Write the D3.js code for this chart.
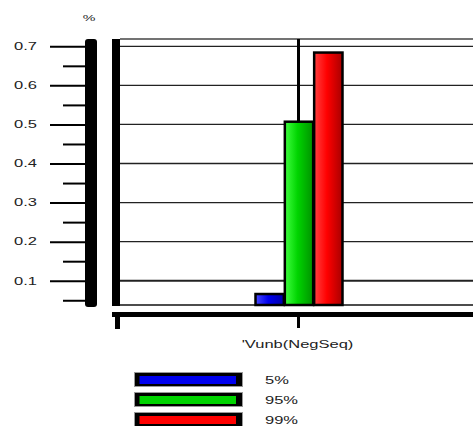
<!DOCTYPE html>
<html>
<head>
<meta charset="utf-8">
<script src="https://cdn.jsdelivr.net/npm/d3@7"></script>
<style>
  html, body { margin: 0; padding: 0; background: #fff; }
  svg { display: block; }
  text { font-family: "Liberation Sans", Arial, sans-serif; fill: #222; }
</style>
</head>
<body>
<script>
// Unbalance (negative sequence) percentiles
const categories = ["'Vunb(NegSeq)"];
const seriesNames = ["5%", "95%", "99%"];
const seriesValues = [[0.066], [0.507], [0.684]];
const majorTicks = [0.1, 0.2, 0.3, 0.4, 0.5, 0.6, 0.7];
const minorTicks = [0.05, 0.15, 0.25, 0.35, 0.45, 0.55, 0.65];
const yUnit = "%";

const W = 473, H = 426;
const plot = { left: 120, right: 477, top: 39, bottom: 305 };
const colors = [
  ["#4a4aff", "#0000ee", "#0000a8"],
  ["#40ff40", "#00d400", "#009200"],
  ["#ff4040", "#ff0000", "#a80000"]
];
const SX = 1.5; // horizontal text stretch

const svg = d3.select("body").append("svg").attr("width", W).attr("height", H);

const defs = svg.append("defs");
colors.forEach((c, i) => {
  const g = defs.append("linearGradient").attr("id", "g" + i)
    .attr("x1", 0).attr("x2", 1).attr("y1", 0).attr("y2", 0);
  g.append("stop").attr("offset", "0%").attr("stop-color", c[0]);
  g.append("stop").attr("offset", "45%").attr("stop-color", c[1]);
  g.append("stop").attr("offset", "100%").attr("stop-color", c[2]);
});

const y = d3.scaleLinear().domain([0, 0.7]).range([319.8, 46.3]);
const x = d3.scaleBand().domain(categories).range([plot.left, plot.right]).padding(0);
const xs = d3.scaleBand().domain(seriesNames).range([-44, 44]).padding(0);

function label(sel, tx, ty, txt, size, anchor) {
  sel.append("text")
    .attr("transform", `translate(${tx},${ty}) scale(${SX},1)`)
    .attr("text-anchor", anchor || "start")
    .attr("font-size", size)
    .text(txt);
}

// Left value axis
const axisG = svg.append("g");
const majorAxis = axisG.append("g").attr("transform", "translate(85,0)")
  .call(d3.axisLeft(y).tickValues(majorTicks).tickSize(35).tickFormat(""));
const minorAxis = axisG.append("g").attr("transform", "translate(85,0)")
  .call(d3.axisLeft(y).tickValues(minorTicks).tickSize(22).tickFormat(""));
[majorAxis, minorAxis].forEach(a => {
  a.select(".domain").remove();
  a.selectAll("line").attr("stroke", "#000").attr("stroke-width", 2);
});
majorTicks.forEach(v => label(axisG, 37, y(v) + 3.8, d3.format(".1f")(v), 11, "end"));
axisG.append("rect").attr("x", 85).attr("y", 39).attr("width", 12)
  .attr("height", 268).attr("rx", 3).attr("fill", "#000");
label(svg, 89, 21, yUnit, 9.5, "middle");

// Plot frame and gridlines
svg.append("line").attr("x1", plot.left).attr("x2", W).attr("y1", plot.top).attr("y2", plot.top)
  .attr("stroke", "#444").attr("stroke-width", 1.3);
svg.append("g").selectAll("line").data(majorTicks).join("line")
  .attr("x1", plot.left).attr("x2", W)
  .attr("y1", d => y(d)).attr("y2", d => y(d))
  .attr("stroke", "#222").attr("stroke-width", d => d === 0.1 ? 1.8 : 1.3);
svg.append("line").attr("x1", 112).attr("x2", W).attr("y1", plot.bottom).attr("y2", plot.bottom)
  .attr("stroke", "#111").attr("stroke-width", 1.5);
svg.append("rect").attr("x", 112).attr("y", plot.top).attr("width", 8)
  .attr("height", plot.bottom - plot.top + 1).attr("fill", "#000");

// Category center line
categories.forEach(c => {
  const cx = x(c) + x.bandwidth() / 2;
  svg.append("line").attr("x1", cx).attr("x2", cx).attr("y1", plot.top).attr("y2", plot.bottom)
    .attr("stroke", "#000").attr("stroke-width", 3);
});

// Bars
const barG = svg.append("g");
seriesNames.forEach((s, i) => {
  categories.forEach((c, j) => {
    const cx = x(c) + x.bandwidth() / 2;
    const v = seriesValues[i][j];
    barG.append("rect")
      .attr("x", cx + xs(s) + 1)
      .attr("y", y(v))
      .attr("width", xs.bandwidth() - 1)
      .attr("height", plot.bottom - y(v))
      .attr("fill", `url(#g${i})`)
      .attr("stroke", "#000").attr("stroke-width", 2.5);
  });
});

// Category axis
const xAxisG = svg.append("g");
xAxisG.append("rect").attr("x", 112).attr("y", 312).attr("width", W - 112).attr("height", 5).attr("fill", "#000");
xAxisG.append("rect").attr("x", 115).attr("y", 312).attr("width", 5).attr("height", 17).attr("fill", "#000");
categories.forEach(c => {
  const cx = x(c) + x.bandwidth() / 2;
  xAxisG.append("line").attr("x1", cx).attr("x2", cx).attr("y1", 317).attr("y2", 328)
    .attr("stroke", "#000").attr("stroke-width", 3);
  label(xAxisG, cx - 1, 348, c, 11, "middle");
});

// Legend
const legG = svg.append("g");
seriesNames.forEach((s, i) => {
  const ly = 373 + i * 20;
  legG.append("rect").attr("x", 134.5).attr("y", ly - 0.5).attr("width", 108).attr("height", 14)
    .attr("fill", "#000").attr("stroke", "#999").attr("stroke-width", 1);
  legG.append("rect").attr("x", 139.5).attr("y", ly + 3).attr("width", 96.5).attr("height", 8)
    .attr("fill", colors[i][1]);
  label(legG, 265, ly + 10.5, s, 11, "start");
});
</script>
</body>
</html>
